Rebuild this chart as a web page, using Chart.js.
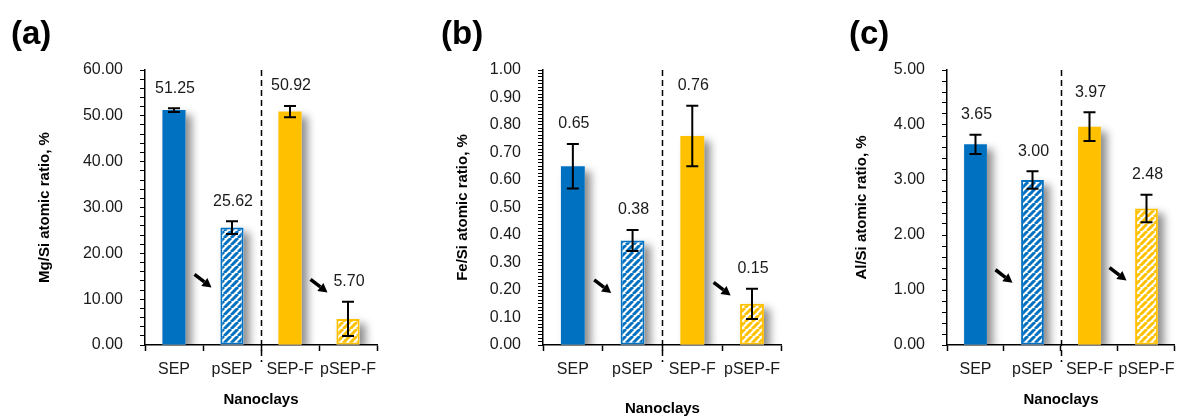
<!DOCTYPE html>
<html>
<head>
<meta charset="utf-8">
<script src="https://cdn.jsdelivr.net/npm/chart.js@4.4.0/dist/chart.umd.min.js"></script>
<style>
  body { margin: 0; background: #fff; width: 1184px; height: 418px; position: relative; overflow: hidden; font-family: "Liberation Sans", Arial, sans-serif; }
  .panel { position: absolute; top: 0; }
  .tag { position: absolute; top: 14px; font-size: 33px; line-height: 37px; font-weight: bold; color: #000; }
</style>
</head>
<body>
<canvas id="mg" class="panel" width="395" height="418" style="left:0"></canvas>
<canvas id="fe" class="panel" width="395" height="418" style="left:395px"></canvas>
<canvas id="al" class="panel" width="394" height="418" style="left:790px"></canvas>
<div class="tag" style="left:11px">(a)</div>
<div class="tag" style="left:441px">(b)</div>
<div class="tag" style="left:849px">(c)</div>
<script>
const categories = ['SEP', 'pSEP', 'SEP-F', 'pSEP-F'];

const mgSi = [51.25, 25.62, 50.92, 5.70];
const mgSiErr = [0.4, 1.4, 1.25, 3.75];
const mgSiAxis = [0, 60, 10, 2];      // min, max, label step, minor step

const feSi = [0.65, 0.38, 0.76, 0.15];
const feSiErr = [0.081, 0.038, 0.11, 0.055];
const feSiAxis = [0, 1, 0.1, 0.0125];

const alSi = [3.65, 3.00, 3.97, 2.48];
const alSiErr = [0.175, 0.16, 0.26, 0.25];
const alSiAxis = [0, 5, 1, 0.2];

const BLUE = '#0070C0';
const GOLD = '#FFC000';
const FONT = '"Liberation Sans", Arial, sans-serif';
Chart.defaults.font.family = FONT;

// wide upward diagonal hatch, white stripes over the series colour
function hatch(color) {
  const size = 7;
  const c = document.createElement('canvas');
  c.width = size; c.height = size;
  const g = c.getContext('2d');
  g.fillStyle = '#fff';
  g.fillRect(0, 0, size, size);
  g.strokeStyle = color;
  g.lineWidth = 3;
  for (let k = -1; k <= 1; k++) {
    g.beginPath();
    g.moveTo(k * size, size);
    g.lineTo(k * size + size, 0);
    g.stroke();
  }
  return g.createPattern(c, 'repeat');
}

// soft drop shadow behind every bar
const barShadow = {
  id: 'barShadow',
  beforeDatasetsDraw(chart) {
    const { ctx, chartArea: a } = chart;
    ctx.save();
    ctx.beginPath();
    ctx.rect(a.left, a.top, a.width, a.height);
    ctx.clip();
    ctx.shadowColor = 'rgba(0,0,0,0.45)';
    ctx.shadowBlur = 9;
    ctx.shadowOffsetX = 6;
    ctx.shadowOffsetY = 5;
    ctx.fillStyle = '#fff';
    chart.getDatasetMeta(0).data.forEach(b => {
      const { x, y, base, width } = b.getProps(['x', 'y', 'base', 'width']);
      ctx.fillRect(x - width / 2, y, width, base - y);
    });
    ctx.restore();
  }
};

// error bars, value labels, arrows and the dashed group divider
const extras = {
  id: 'extras',
  afterDatasetsDraw(chart, args, opts) {
    const { ctx, chartArea: a, scales: { x, y } } = chart;
    const values = chart.data.datasets[0].data;
    const bars = chart.getDatasetMeta(0).data;
    ctx.save();
    ctx.strokeStyle = '#000';
    ctx.lineWidth = 2;
    ctx.fillStyle = '#1a1a1a';
    ctx.font = '16px ' + FONT;
    ctx.textAlign = 'center';
    ctx.textBaseline = 'middle';
    bars.forEach((bar, i) => {
      const v = values[i], e = opts.errors[i];
      const hi = y.getPixelForValue(v + e);
      const lo = y.getPixelForValue(v - e);
      ctx.beginPath();
      ctx.moveTo(bar.x, hi); ctx.lineTo(bar.x, lo);
      ctx.moveTo(bar.x - 6, hi); ctx.lineTo(bar.x + 6, hi);
      ctx.moveTo(bar.x - 6, lo); ctx.lineTo(bar.x + 6, lo);
      ctx.stroke();
      ctx.fillText(v.toFixed(2), bar.x + 1, hi - 20);
    });

    // arrows between the pristine and treated bars
    ctx.fillStyle = '#000';
    opts.arrows.forEach((f, k) => {
      const cx = (x.getPixelForValue(2 * k) + x.getPixelForValue(2 * k + 1)) / 2;
      const cy = a.top + f * a.height;
      const dx = 17, dy = 13;
      const ang = Math.atan2(dy, dx);
      const tipX = cx + dx / 2, tipY = cy + dy / 2;
      const headLen = 9, headW = 5;
      const bx = tipX - headLen * Math.cos(ang), by = tipY - headLen * Math.sin(ang);
      ctx.lineWidth = 3.5;
      ctx.beginPath();
      ctx.moveTo(cx - dx / 2, cy - dy / 2);
      ctx.lineTo(bx, by);
      ctx.stroke();
      ctx.beginPath();
      ctx.moveTo(tipX, tipY);
      ctx.lineTo(bx + headW * Math.sin(ang), by - headW * Math.cos(ang));
      ctx.lineTo(bx - headW * Math.sin(ang), by + headW * Math.cos(ang));
      ctx.closePath();
      ctx.fill();
    });
    ctx.restore();
  },
  afterDraw(chart) {
    const { ctx, chartArea: a, scales: { x } } = chart;
    const xd = Math.round((x.getPixelForValue(1) + x.getPixelForValue(2)) / 2) + 0.5;
    ctx.save();
    ctx.strokeStyle = '#000';
    ctx.lineWidth = 1.5;
    ctx.setLineDash([6, 4]);
    ctx.beginPath();
    ctx.moveTo(xd, a.top);
    ctx.lineTo(xd, a.bottom + 17);
    ctx.stroke();
    ctx.restore();
  }
};

function makeChart(id, values, errors, axis, yTitle, box) {
  const [min, max, major, minor] = axis;
  const every = Math.round(major / minor);
  const blueHatch = hatch(BLUE), goldHatch = hatch(GOLD);
  return new Chart(document.getElementById(id), {
    type: 'bar',
    data: {
      labels: categories,
      datasets: [{
        data: values,
        backgroundColor: [BLUE, blueHatch, GOLD, goldHatch],
        borderColor: [BLUE, BLUE, GOLD, GOLD],
        borderWidth: [0, 2, 0, 2],
        borderSkipped: false,
        barPercentage: 0.4,
        categoryPercentage: 1
      }]
    },
    options: {
      responsive: false,
      animation: false,
      events: [],
      layout: { padding: { left: box.padLeft, right: box.padRight, top: 70, bottom: 0 } },
      plugins: {
        legend: { display: false },
        tooltip: { enabled: false },
        extras: { errors: errors, arrows: box.arrows }
      },
      scales: {
        x: {
          grid: { drawOnChartArea: false, offset: true, tickLength: 6, tickColor: '#000', tickWidth: 1.5 },
          border: { color: '#000', width: 1.5 },
          ticks: { color: '#1a1a1a', font: { size: 16 }, padding: 9, maxRotation: 0, autoSkip: false },
          title: {
            display: true, text: 'Nanoclays', color: '#000',
            font: { size: 15, weight: 'bold' },
            padding: { top: 0, bottom: box.xTitlePad }
          },
          afterFit(s) { s.height = 418 - 345; }
        },
        y: {
          min: min, max: max,
          grid: { drawOnChartArea: false, tickLength: 5, tickColor: '#000', tickWidth: 1 },
          border: { color: '#000', width: 1.5 },
          ticks: {
            stepSize: minor, autoSkip: false, padding: 17,
            color: '#1a1a1a', font: { size: 16 },
            callback: (v, i) => (i % every === 0 ? Number(v).toFixed(2) : '')
          },
          title: {
            display: true, text: yTitle, color: '#000',
            font: { size: 15, weight: 'bold' }, padding: 0
          },
          afterFit(s) { s.width = box.yWidth; }
        }
      }
    },
    plugins: [barShadow, extras]
  });
}

makeChart('mg', mgSi, mgSiErr, mgSiAxis, 'Mg/Si atomic ratio, %',
  { padLeft: 36, yWidth: 109, padRight: 18, xTitlePad: 9, arrows: [0.767, 0.785] });
makeChart('fe', feSi, feSiErr, feSiAxis, 'Fe/Si atomic ratio, %',
  { padLeft: 59, yWidth: 89, padRight: 8, xTitlePad: 0, arrows: [0.787, 0.796] });
makeChart('al', alSi, alSiErr, alSiAxis, 'Al/Si atomic ratio, %',
  { padLeft: 63, yWidth: 94, padRight: 4, xTitlePad: 9, arrows: [0.75, 0.742] });
</script>
</body>
</html>
